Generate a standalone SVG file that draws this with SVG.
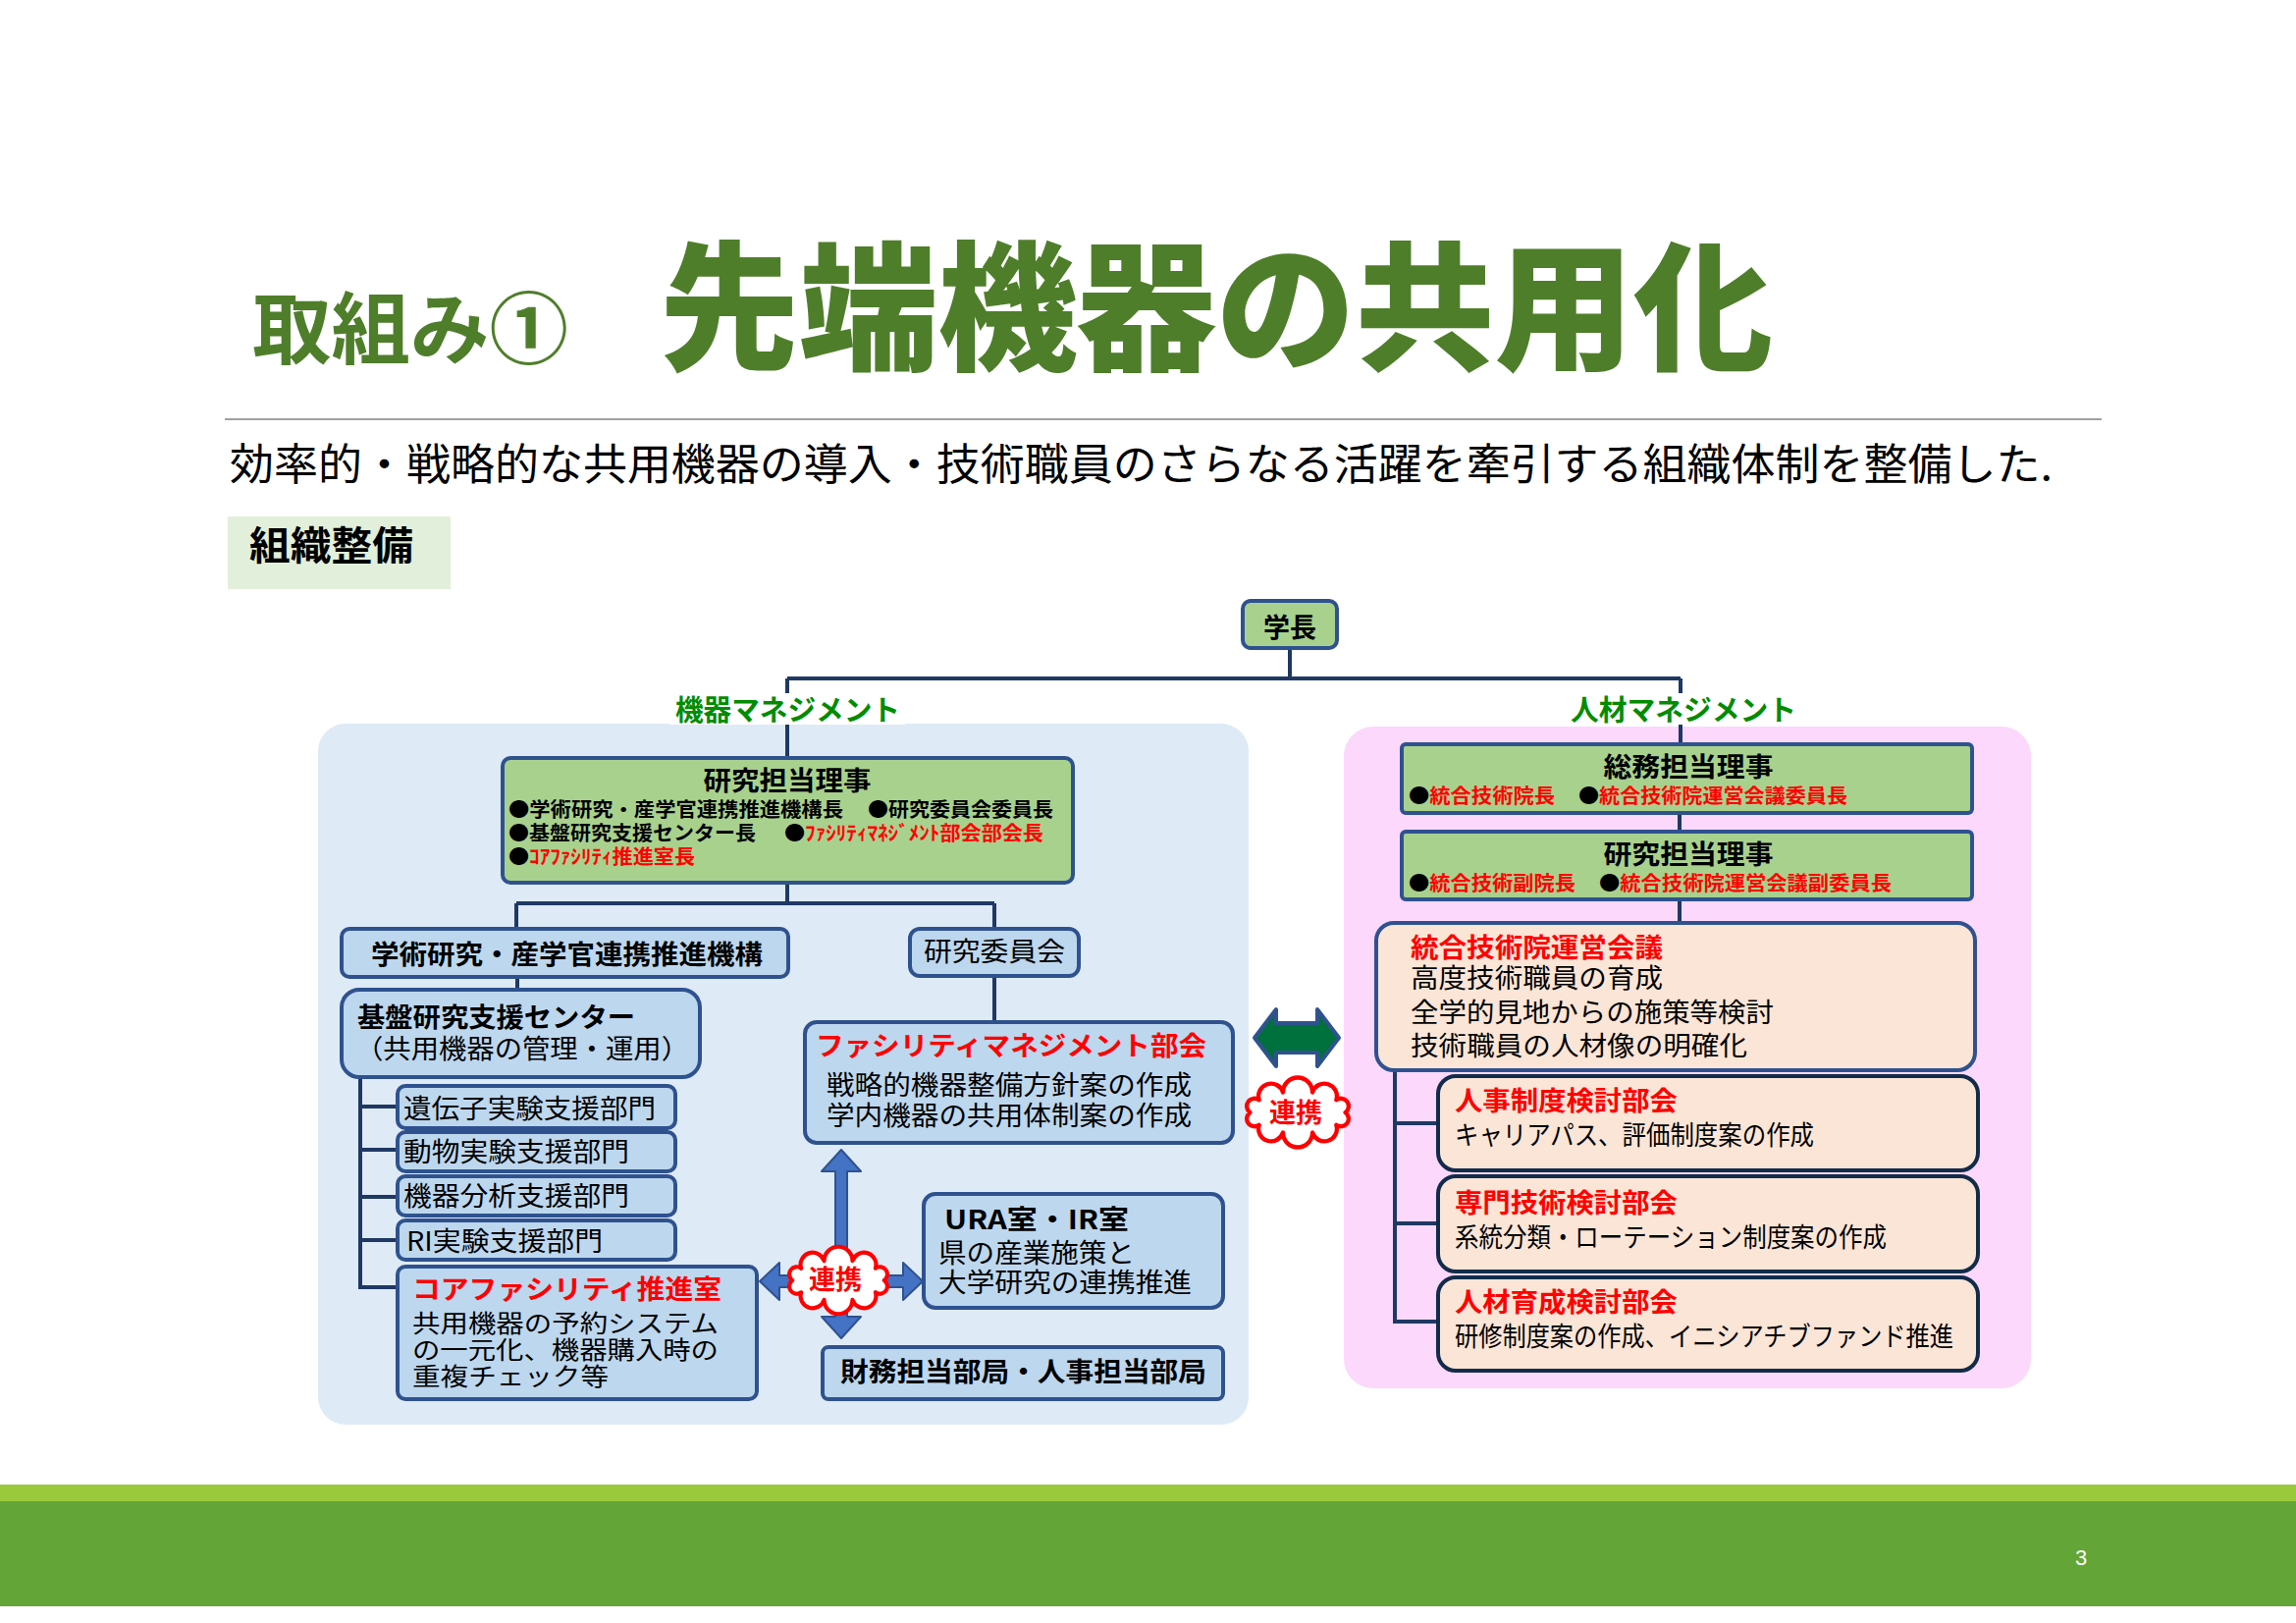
<svg xmlns="http://www.w3.org/2000/svg" xmlns:xlink="http://www.w3.org/1999/xlink" width="2339" height="1653" viewBox="0 0 2339 1653">
<defs>
<style>
text{font-family:"Noto Sans CJK JP","Noto Sans CJK SC",sans-serif;}
.b{font-weight:700;}
.t28{font-size:27px;}
.t25{font-size:25px;}
.t20{font-size:20px;font-weight:700;}
.red{fill:#FF0000;}
.blk{fill:#000000;}
.lbl{font-size:29px;font-weight:700;fill:#008C00;}
.bluebox{fill:#BDD7EE;stroke:#2F528F;stroke-width:4;}
.greenbox{fill:#A9D18E;stroke:#2F528F;stroke-width:4;}
.peachbox{fill:#FBE5D6;stroke:#2F528F;stroke-width:4;}
.peachbox2{fill:#FBE5D6;stroke:#122B4A;stroke-width:4;}
.conn{fill:none;stroke:#1F3864;stroke-width:4;}
.barrow{fill:#4472C4;stroke:#2F528F;stroke-width:2;stroke-linejoin:round;}
.garrow{fill:#00703C;stroke:#2F528F;stroke-width:4;stroke-linejoin:round;}
.cloud{fill:#FFFFFF;stroke:#FF0000;stroke-width:4;stroke-linejoin:round;}
</style>
<path id="cloudShape" d="M45,0 A7.3,7.3 0 0 1 36.4,11.8 A11.8,11.8 0 0 1 13.9,19 A13.9,13.9 0 0 1 -13.9,19 A11.8,11.8 0 0 1 -36.4,11.8 A7.3,7.3 0 0 1 -45,0 A7.3,7.3 0 0 1 -36.4,-11.8 A11.8,11.8 0 0 1 -13.9,-19 A13.9,13.9 0 0 1 13.9,-19 A11.8,11.8 0 0 1 36.4,-11.8 A7.3,7.3 0 0 1 45,0 Z"/>
</defs>
<rect x="0" y="0" width="2339" height="1653" fill="#FFFFFF"/>

<!-- header -->
<g id="header">
<text x="257" y="364" font-size="80" font-weight="700" fill="#4F7E2B" textLength="322" lengthAdjust="spacingAndGlyphs">取組み①</text>
<text x="672" y="366" font-size="142" font-weight="900" fill="#4F7E2B" textLength="1134" lengthAdjust="spacingAndGlyphs">先端機器の共用化</text>
<line x1="229" y1="427" x2="2141" y2="427" stroke="#A0A0A0" stroke-width="2"/>
<text x="234" y="489" font-size="44" fill="#000000" textLength="1857" lengthAdjust="spacingAndGlyphs">効率的・戦略的な共用機器の導入・技術職員のさらなる活躍を牽引する組織体制を整備した.</text>
</g>
<g id="section-label">
<rect x="232" y="526" width="227" height="74" fill="#E2EFDA"/>
<text x="254" y="570" font-size="40" font-weight="700" fill="#000000" textLength="167" lengthAdjust="spacingAndGlyphs">組織整備</text>
</g>

<!-- panels -->
<rect id="panel-left" x="324" y="737" width="948" height="714" rx="28" fill="#DEEAF6"/>
<rect id="panel-right" x="1369" y="740" width="700" height="674" rx="30" fill="#FCD8FC"/>

<!-- connectors -->
<g id="connectors">
<path class="conn" d="M1314,659 V691 M802,691 H1712 M802,691 V772 M1712,691 V758"/>
<path class="conn" d="M802,899 V920 M526,920 H1013 M526,920 V946 M1013,920 V946"/>
<path class="conn" d="M527,995 V1008 M1013,994 V1041"/>
<path class="conn" d="M367,1097 V1313 M367,1127 H405 M367,1171 H405 M367,1219 H405 M367,1263 H405 M367,1311 H405"/>
<path class="conn" d="M1711,828 V847 M1711,916 V940"/>
<path class="conn" d="M1421,1090 V1348 M1419,1144 H1465 M1419,1246 H1465 M1419,1346 H1465"/>
<polygon class="barrow" points="857,1171 877,1193 863,1193 863,1341 877,1341 857,1363 837,1341 851,1341 851,1193 837,1193"/>
<polygon class="barrow" points="774,1305 794,1286 794,1299 920,1299 920,1286 940,1305 920,1324 920,1311 794,1311 794,1324"/>
<polygon class="garrow" points="1278,1057 1300,1028 1300,1042 1342,1042 1342,1028 1364,1057 1342,1086 1342,1072 1300,1072 1300,1086"/>
</g>

<!-- labels -->
<g id="label-kiki">
<rect x="682" y="706" width="240" height="32" fill="#FFFFFF"/>
<text class="lbl" x="688" y="734" textLength="229" lengthAdjust="spacingAndGlyphs">機器マネジメント</text>
</g>
<g id="label-jinzai">
<rect x="1594" y="706" width="242" height="32" fill="#FFFFFF"/>
<text class="lbl" x="1600" y="734" textLength="230" lengthAdjust="spacingAndGlyphs">人材マネジメント</text>
</g>

<!-- nodes -->
<g id="gakucho">
<rect class="greenbox" x="1266" y="612" width="96" height="48" rx="8"/>
<text class="t28 b" x="1314" y="649" text-anchor="middle">学長</text>
</g>

<g id="kenkyu-riji-left">
<rect class="greenbox" x="512" y="772" width="581" height="127" rx="8"/>
<text class="t28 b" x="802" y="805" text-anchor="middle" textLength="171" lengthAdjust="spacingAndGlyphs">研究担当理事</text>
<text class="t20" x="518" y="832" textLength="341" lengthAdjust="spacingAndGlyphs">●学術研究・産学官連携推進機構長</text>
<text class="t20" x="884" y="832" textLength="189" lengthAdjust="spacingAndGlyphs">●研究委員会委員長</text>
<text class="t20" x="518" y="856" textLength="252" lengthAdjust="spacingAndGlyphs">●基盤研究支援センター長</text>
<text class="t20" x="799" y="856" textLength="264" lengthAdjust="spacingAndGlyphs">●<tspan class="red">ﾌｧｼﾘﾃｨﾏﾈｼﾞﾒﾝﾄ部会部会長</tspan></text>
<text class="t20" x="518" y="880" textLength="190" lengthAdjust="spacingAndGlyphs">●<tspan class="red">ｺｱﾌｧｼﾘﾃｨ推進室長</tspan></text>
</g>

<g id="gakujutsu-kiko">
<rect class="bluebox" x="348" y="946" width="455" height="49" rx="8"/>
<text class="b" font-size="27" x="378" y="982" textLength="399" lengthAdjust="spacingAndGlyphs">学術研究・産学官連携推進機構</text>
</g>

<g id="kenkyu-iinkai">
<rect class="bluebox" x="927" y="946" width="172" height="48" rx="10"/>
<text class="t28" x="941" y="979" textLength="144" lengthAdjust="spacingAndGlyphs">研究委員会</text>
</g>

<g id="kiban-center">
<rect class="bluebox" x="348" y="1008" width="365" height="89" rx="18"/>
<text class="t28 b" x="364" y="1046" textLength="283" lengthAdjust="spacingAndGlyphs">基盤研究支援センター</text>
<text class="t28" x="362" y="1078" textLength="340" lengthAdjust="spacingAndGlyphs">（共用機器の管理・運用）</text>
</g>

<g id="idenshi">
<rect class="bluebox" x="405" y="1106" width="283" height="43" rx="8"/>
<text class="t28" x="411" y="1139" textLength="257" lengthAdjust="spacingAndGlyphs">遺伝子実験支援部門</text>
</g>
<g id="dobutsu">
<rect class="bluebox" x="405" y="1153" width="283" height="40" rx="8"/>
<text class="t28" x="411" y="1183" textLength="230" lengthAdjust="spacingAndGlyphs">動物実験支援部門</text>
</g>
<g id="kiki-bunseki">
<rect class="bluebox" x="405" y="1198" width="283" height="40" rx="8"/>
<text class="t28" x="411" y="1228" textLength="230" lengthAdjust="spacingAndGlyphs">機器分析支援部門</text>
</g>
<g id="ri">
<rect class="bluebox" x="405" y="1243" width="283" height="40" rx="8"/>
<text class="t28" x="414" y="1274" textLength="200" lengthAdjust="spacingAndGlyphs">RI実験支援部門</text>
</g>

<g id="core-facility">
<rect class="bluebox" x="405" y="1290" width="366" height="135" rx="8"/>
<text class="t28 b red" x="420" y="1323" textLength="315" lengthAdjust="spacingAndGlyphs">コアファシリティ推進室</text>
<text class="t25" x="420" y="1357" textLength="312" lengthAdjust="spacingAndGlyphs">共用機器の予約システム</text>
<text class="t25" x="420" y="1384" textLength="312" lengthAdjust="spacingAndGlyphs">の一元化、機器購入時の</text>
<text class="t25" x="420" y="1411" textLength="200" lengthAdjust="spacingAndGlyphs">重複チェック等</text>
</g>

<g id="facility-mgmt">
<rect class="bluebox" x="820" y="1041" width="436" height="123" rx="12"/>
<text class="t28 b red" x="831" y="1075" textLength="398" lengthAdjust="spacingAndGlyphs">ファシリティマネジメント部会</text>
<text class="t28" x="842" y="1115" textLength="372" lengthAdjust="spacingAndGlyphs">戦略的機器整備方針案の作成</text>
<text class="t28" x="842" y="1146" textLength="372" lengthAdjust="spacingAndGlyphs">学内機器の共用体制案の作成</text>
</g>

<g id="ura-ir">
<rect class="bluebox" x="941" y="1216" width="305" height="116" rx="12"/>
<text class="t28 b" x="962" y="1252" textLength="188" lengthAdjust="spacingAndGlyphs">URA室・IR室</text>
<text class="t28" x="956" y="1286" textLength="200" lengthAdjust="spacingAndGlyphs">県の産業施策と</text>
<text class="t28" x="956" y="1316" textLength="258" lengthAdjust="spacingAndGlyphs">大学研究の連携推進</text>
</g>

<g id="zaimu-jinji">
<rect class="bluebox" x="838" y="1372" width="408" height="53" rx="6"/>
<text class="t28 b" x="856" y="1407" textLength="373" lengthAdjust="spacingAndGlyphs">財務担当部局・人事担当部局</text>
</g>

<g id="renkei-left">
<use xlink:href="#cloudShape" href="#cloudShape" class="cloud" transform="translate(854,1304) scale(1.04)"/>
<text class="t28 b red" x="851" y="1313" text-anchor="middle">連携</text>
</g>

<g id="somu-riji">
<rect class="greenbox" x="1428" y="758" width="581" height="70" rx="4"/>
<text class="t28 b" x="1720" y="791" text-anchor="middle" textLength="173" lengthAdjust="spacingAndGlyphs">総務担当理事</text>
<text class="t20" x="1435" y="818" textLength="149" lengthAdjust="spacingAndGlyphs">●<tspan class="red">統合技術院長</tspan></text>
<text class="t20" x="1608" y="818" textLength="274" lengthAdjust="spacingAndGlyphs">●<tspan class="red">統合技術院運営会議委員長</tspan></text>
</g>

<g id="kenkyu-riji-right">
<rect class="greenbox" x="1428" y="847" width="581" height="69" rx="4"/>
<text class="t28 b" x="1720" y="880" text-anchor="middle" textLength="173" lengthAdjust="spacingAndGlyphs">研究担当理事</text>
<text class="t20" x="1435" y="907" textLength="170" lengthAdjust="spacingAndGlyphs">●<tspan class="red">統合技術副院長</tspan></text>
<text class="t20" x="1629" y="907" textLength="298" lengthAdjust="spacingAndGlyphs">●<tspan class="red">統合技術院運営会議副委員長</tspan></text>
</g>

<g id="togo-unei">
<rect class="peachbox" x="1402" y="940" width="610" height="150" rx="18"/>
<text class="t28 b red" x="1437" y="975" textLength="257" lengthAdjust="spacingAndGlyphs">統合技術院運営会議</text>
<text class="t28" x="1437" y="1006" textLength="257" lengthAdjust="spacingAndGlyphs">高度技術職員の育成</text>
<text class="t28" x="1437" y="1041" textLength="370" lengthAdjust="spacingAndGlyphs">全学的見地からの施策等検討</text>
<text class="t28" x="1437" y="1075" textLength="343" lengthAdjust="spacingAndGlyphs">技術職員の人材像の明確化</text>
</g>

<g id="jinji-seido">
<rect class="peachbox2" x="1465" y="1096" width="550" height="96" rx="18"/>
<text class="t28 b red" x="1482" y="1131" textLength="227" lengthAdjust="spacingAndGlyphs">人事制度検討部会</text>
<text class="t28" x="1482" y="1166" textLength="366" lengthAdjust="spacingAndGlyphs">キャリアパス、評価制度案の作成</text>
</g>

<g id="senmon-gijutsu">
<rect class="peachbox2" x="1465" y="1198" width="550" height="97" rx="18"/>
<text class="t28 b red" x="1482" y="1235" textLength="227" lengthAdjust="spacingAndGlyphs">専門技術検討部会</text>
<text class="t28" x="1482" y="1270" textLength="440" lengthAdjust="spacingAndGlyphs">系統分類・ローテーション制度案の作成</text>
</g>

<g id="jinzai-ikusei">
<rect class="peachbox2" x="1465" y="1301" width="550" height="95" rx="18"/>
<text class="t28 b red" x="1482" y="1336" textLength="227" lengthAdjust="spacingAndGlyphs">人材育成検討部会</text>
<text class="t28" x="1482" y="1371" textLength="508" lengthAdjust="spacingAndGlyphs">研修制度案の作成、イニシアチブファンド推進</text>
</g>

<g id="renkei-right">
<use xlink:href="#cloudShape" href="#cloudShape" class="cloud" transform="translate(1322,1133) scale(1.08)"/>
<text class="t28 b red" x="1320" y="1143" text-anchor="middle">連携</text>
</g>

<!-- footer -->
<g id="footer">
<rect x="0" y="1512" width="2339" height="17" fill="#9ACA3C"/>
<rect x="0" y="1529" width="2339" height="107" fill="#63A537"/>
<text x="2120" y="1594" font-size="22" fill="#FFFFFF" text-anchor="middle" style="font-family:'Liberation Sans',sans-serif">3</text>
</g>
</svg>
